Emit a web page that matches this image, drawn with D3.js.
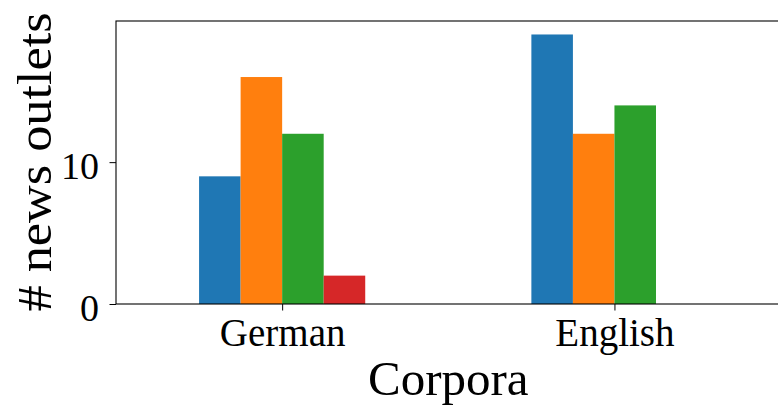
<!DOCTYPE html>
<html>
<head>
<meta charset="utf-8">
<script src="https://cdn.jsdelivr.net/npm/d3@7"></script>
<style>
  html, body { margin: 0; padding: 0; background: #fff; }
  svg { display: block; }
  text { font-family: "Liberation Serif", "Times New Roman", serif; fill: #000; }
</style>
</head>
<body>
<svg id="chart" width="778" height="405"></svg>
<script>
// Corpora and outlet counts per series
const categories = ["German", "English"];
const series1 = [9, 19];
const series2 = [16, 12];
const series3 = [12, 14];
const series4 = [2, 0];
const seriesColors = ["#1f77b4", "#ff7f0e", "#2ca02c", "#d62728"];
const yTicks = [0, 10];

const allSeries = [series1, series2, series3, series4];
const svg = d3.select("#chart");

const plotLeft = 116, plotRight = 780.6, plotTop = 21, plotBottom = 304;
const x = d3.scaleLinear().domain([-0.5, categories.length - 0.5]).range([plotLeft, plotRight]);
const y = d3.scaleLinear().domain([0, 19.95]).range([plotBottom, plotTop]);

const groupWidth = 0.5;
const barW = groupWidth / allSeries.length;

// bars
allSeries.forEach((vals, s) => {
  svg.append("g").selectAll("rect")
    .data(vals)
    .join("rect")
    .attr("x", (d, i) => x(i + (s - allSeries.length / 2) * barW))
    .attr("width", x(barW) - x(0))
    .attr("y", d => y(d))
    .attr("height", d => y(0) - y(d))
    .attr("fill", seriesColors[s]);
});

// frame
svg.append("rect")
  .attr("x", plotLeft).attr("y", plotTop)
  .attr("width", plotRight - plotLeft).attr("height", plotBottom - plotTop)
  .attr("fill", "none").attr("stroke", "#000").attr("stroke-width", 1.1);

// y axis
const yAxis = d3.axisLeft(y).tickValues(yTicks).tickSize(6.5).tickFormat(d3.format("d"));
const gy = svg.append("g").attr("transform", `translate(${plotLeft},0)`).call(yAxis);
gy.select(".domain").remove();
gy.selectAll(".tick line").attr("stroke", "#000").attr("stroke-width", 1);
gy.selectAll(".tick text")
  .attr("x", -17).attr("dy", null).attr("y", 16)
  .style("font-family", "'Liberation Serif', serif")
  .style("font-size", "38px").attr("fill", "#000");

// x axis
const xAxis = d3.axisBottom(x).tickValues(categories.map((c, i) => i))
  .tickFormat(i => categories[i]).tickSize(6.5);
const gx = svg.append("g").attr("transform", `translate(0,${plotBottom})`).call(xAxis);
gx.select(".domain").remove();
gx.selectAll(".tick line").attr("stroke", "#000").attr("stroke-width", 1);
gx.selectAll(".tick text")
  .attr("y", 42).attr("dy", null)
  .style("font-family", "'Liberation Serif', serif")
  .style("font-size", "39px").attr("fill", "#000");

// axis titles
svg.append("text")
  .attr("x", (plotLeft + plotRight) / 2).attr("y", 395)
  .attr("text-anchor", "middle")
  .style("font-size", "49px")
  .text("Corpora");

svg.append("text")
  .attr("transform", "translate(51,162) rotate(-90)")
  .attr("text-anchor", "middle")
  .style("font-size", "49px")
  .attr("textLength", 299).attr("lengthAdjust", "spacingAndGlyphs")
  .text("# news outlets");
</script>
</body>
</html>
